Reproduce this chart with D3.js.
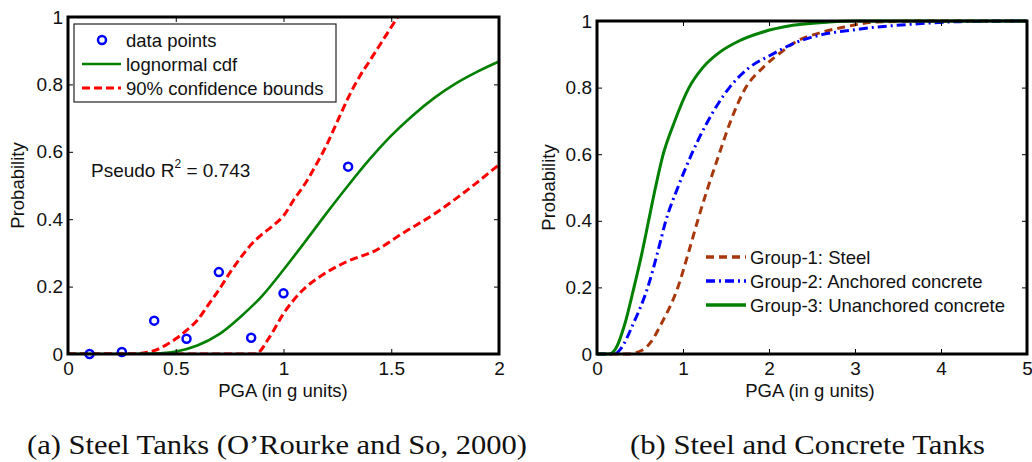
<!DOCTYPE html>
<html lang="en">
<head>
<meta charset="UTF-8">
<title>Tank fragility curves</title>
<style>
  body { margin: 0; background: #fff; }
  svg text { font-family: "Liberation Sans", Arial, sans-serif; fill: #111; }
  .frame { fill: none; stroke: #000; stroke-width: 3px; }
  .tick line { stroke: #000; stroke-width: 1px; }
  .caption { font-family: "Liberation Serif", "Times New Roman", serif; font-size: 27px; }
</style>
</head>
<body>
<svg id="chart" width="1032" height="462"></svg>
<script src="https://cdn.jsdelivr.net/npm/d3@7/dist/d3.min.js"></script>
<script>
// ---- panel (a): steel tanks ----
const pointsA = [[0.1, 0], [0.25, 0.006], [0.4, 0.099], [0.55, 0.045], [0.7, 0.243],
                 [0.85, 0.048], [1.0, 0.18], [1.3, 0.556]];
const lognormalA = [[0, 0], [0.3, 0], [0.4, 0.001], [0.5, 0.007], [0.6, 0.025], [0.7, 0.058],
                    [0.8, 0.11], [0.9, 0.172], [1.0, 0.25], [1.1, 0.333], [1.2, 0.418],
                    [1.3, 0.5], [1.4, 0.578], [1.5, 0.648], [1.6, 0.708], [1.7, 0.76],
                    [1.8, 0.803], [1.9, 0.838], [2.0, 0.868]];
const upperA = [[0, 0], [0.3, 0], [0.35, 0.003], [0.4, 0.01], [0.45, 0.025], [0.5, 0.045],
                [0.55, 0.07], [0.6, 0.1], [0.65, 0.145], [0.7, 0.19], [0.75, 0.24], [0.8, 0.285],
                [0.85, 0.325], [0.9, 0.355], [0.95, 0.38], [1.0, 0.41], [1.05, 0.46], [1.1, 0.505],
                [1.15, 0.56], [1.2, 0.62], [1.25, 0.69], [1.3, 0.76], [1.35, 0.82], [1.4, 0.87],
                [1.45, 0.92], [1.5, 0.97], [1.53, 1.0]];
const lowerA = [[0, 0], [0.87, 0], [0.935, 0.05], [1.0, 0.12], [1.09, 0.19], [1.17, 0.23],
                [1.29, 0.273], [1.43, 0.308], [1.55, 0.357], [1.71, 0.42], [1.89, 0.505], [2.0, 0.562]];
const xTicksA = [0, 0.5, 1, 1.5, 2];
const legendA = ["data points", "lognormal cdf", "90% confidence bounds"];

// ---- panel (b): steel and concrete tanks ----
const group1 = [[0, 0], [0.35, 0], [0.53, 0.012], [0.63, 0.037], [0.74, 0.087], [0.94, 0.2],
                [1.07, 0.31], [1.17, 0.4], [1.29, 0.5], [1.42, 0.6], [1.54, 0.69], [1.73, 0.8],
                [1.93, 0.86], [2.16, 0.91], [2.31, 0.937], [2.6, 0.965], [2.86, 0.981],
                [3.25, 0.997], [4, 1], [5, 1]];
const group2 = [[0, 0], [0.2, 0], [0.28, 0.017], [0.415, 0.087], [0.59, 0.2], [0.71, 0.31],
                [0.8, 0.4], [0.94, 0.5], [1.1, 0.6], [1.27, 0.69], [1.54, 0.8], [1.77, 0.86],
                [2.0, 0.895], [2.16, 0.917], [2.31, 0.935], [2.48, 0.95], [3.06, 0.976],
                [3.64, 0.99], [4.22, 0.998], [5, 1]];
const group3 = [[0, 0], [0.14, 0], [0.22, 0.017], [0.32, 0.087], [0.43, 0.2], [0.52, 0.3],
                [0.6, 0.4], [0.68, 0.5], [0.77, 0.6], [0.89, 0.69], [1.07, 0.8], [1.23, 0.86],
                [1.42, 0.905], [1.65, 0.94], [1.93, 0.967], [2.28, 0.987], [2.7, 0.997],
                [3.0, 1], [5, 1]];
const xTicksB = [0, 1, 2, 3, 4, 5];
const groupNames = ["Group-1: Steel", "Group-2: Anchored concrete", "Group-3: Unanchored concrete"];

const probTicks = [0, 0.2, 0.4, 0.6, 0.8, 1];

const svg = d3.select("#chart");

function drawFrame(g, x, y, xTicks) {
    const [x0, x1] = x.range();
    const [y0, y1] = y.range();
    g.append("g").attr("transform", `translate(0,${y0})`)
        .call(d3.axisBottom(x).tickValues(xTicks).tickSize(-5).tickPadding(8).tickFormat(d => d))
        .call(a => a.select(".domain").remove())
        .selectAll("text").style("font-size", "19px");
    g.append("g").attr("transform", `translate(0,${y1})`)
        .call(d3.axisTop(x).tickValues(xTicks).tickSize(-5).tickFormat(""))
        .call(a => a.select(".domain").remove());
    g.append("g").attr("transform", `translate(${x0},0)`)
        .call(d3.axisLeft(y).tickValues(probTicks).tickSize(-5).tickPadding(5).tickFormat(d => d))
        .call(a => a.select(".domain").remove())
        .selectAll("text").style("font-size", "19px");
    g.append("g").attr("transform", `translate(${x1},0)`)
        .call(d3.axisRight(y).tickValues(probTicks).tickSize(-5).tickFormat(""))
        .call(a => a.select(".domain").remove());
    g.append("rect").attr("class", "frame")
        .attr("x", x0).attr("y", y1).attr("width", x1 - x0).attr("height", y0 - y1);
    g.selectAll(".tick text").attr("fill", "#111");
}

function axisLabels(g, x, y, cx, ly) {
    g.append("text").attr("x", cx).attr("y", 397).attr("text-anchor", "middle")
        .style("font-size", "18.5px").text("PGA (in g units)");
    g.append("text").attr("transform", `translate(${ly},${(y.range()[0] + y.range()[1]) / 2}) rotate(-90)`)
        .attr("text-anchor", "middle").style("font-size", "18.5px").text("Probability");
}

// ---------- panel (a) ----------
const xA = d3.scaleLinear().domain([0, 2]).range([68, 499]);
const yA = d3.scaleLinear().domain([0, 1]).range([354, 17]);
const gA = svg.append("g");
const lineA = d3.line().x(d => xA(d[0])).y(d => yA(d[1])).curve(d3.curveMonotoneX);

gA.append("defs").append("clipPath").attr("id", "clipA")
    .append("rect").attr("x", 68).attr("y", 17).attr("width", 431).attr("height", 337);
const plotA = gA.append("g").attr("clip-path", "url(#clipA)");

plotA.append("path").datum(lowerA).attr("d", lineA)
    .attr("fill", "none").attr("stroke", "#ff0000").attr("stroke-width", 3).attr("stroke-dasharray", "8,4");
plotA.append("path").datum(upperA).attr("d", lineA)
    .attr("fill", "none").attr("stroke", "#ff0000").attr("stroke-width", 3).attr("stroke-dasharray", "8,4");
plotA.append("path").datum(lognormalA).attr("d", lineA)
    .attr("fill", "none").attr("stroke", "#008000").attr("stroke-width", 2.6);
gA.selectAll("circle.pt").data(pointsA).join("circle").attr("class", "pt")
    .attr("cx", d => xA(d[0])).attr("cy", d => yA(d[1])).attr("r", 4)
    .attr("fill", "none").attr("stroke", "#0000ff").attr("stroke-width", 2.5);

drawFrame(gA, xA, yA, xTicksA);
axisLabels(gA, xA, yA, 283, 24);

// legend (a)
const legA = gA.append("g");
legA.append("rect").attr("x", 74).attr("y", 24).attr("width", 262).attr("height", 78)
    .attr("fill", "#fff").attr("stroke", "#222").attr("stroke-width", 1.2);
legA.append("circle").attr("cx", 102).attr("cy", 40).attr("r", 4)
    .attr("fill", "none").attr("stroke", "#0000ff").attr("stroke-width", 2.5);
legA.append("line").attr("x1", 82).attr("x2", 121).attr("y1", 64).attr("y2", 64)
    .attr("stroke", "#008000").attr("stroke-width", 2.6);
legA.append("line").attr("x1", 82).attr("x2", 121).attr("y1", 88).attr("y2", 88)
    .attr("stroke", "#ff0000").attr("stroke-width", 3).attr("stroke-dasharray", "8,4");
legendA.forEach((t, i) => {
    legA.append("text").attr("x", 126).attr("y", 47 + i * 24).style("font-size", "18.5px").text(t);
});

const r2 = gA.append("text").attr("x", 91).attr("y", 177).style("font-size", "19px");
r2.append("tspan").text("Pseudo R");
r2.append("tspan").attr("dy", -9).style("font-size", "12px").text("2");
r2.append("tspan").attr("dy", 9).text(" = 0.743");

// ---------- panel (b) ----------
const xB = d3.scaleLinear().domain([0, 5]).range([597, 1027]);
const yB = d3.scaleLinear().domain([0, 1]).range([354, 21]);
const gB = svg.append("g");
const lineB = d3.line().x(d => xB(d[0])).y(d => yB(d[1])).curve(d3.curveMonotoneX);

const styles = [
    { data: group1, color: "#a8380c", width: 3, dash: "8,5" },
    { data: group2, color: "#0000ff", width: 3, dash: "9,4,2,4" },
    { data: group3, color: "#008000", width: 3, dash: null }
];
styles.forEach(s => {
    gB.append("path").datum(s.data).attr("d", lineB)
        .attr("fill", "none").attr("stroke", s.color).attr("stroke-width", s.width)
        .attr("stroke-dasharray", s.dash);
});

drawFrame(gB, xB, yB, xTicksB);
axisLabels(gB, xB, yB, 810, 555);

styles.forEach((s, i) => {
    const ly = 257 + i * 24;
    gB.append("line").attr("x1", 706).attr("x2", 746).attr("y1", ly).attr("y2", ly)
        .attr("stroke", s.color).attr("stroke-width", s.width + 0.5).attr("stroke-dasharray", s.dash);
    gB.append("text").attr("x", 750).attr("y", ly + 7).style("font-size", "18.5px").text(groupNames[i]);
});

// captions
svg.append("text").attr("class", "caption").attr("x", 27).attr("y", 454)
    .attr("textLength", 500).attr("lengthAdjust", "spacingAndGlyphs")
    .text("(a) Steel Tanks (O\u2019Rourke and So, 2000)");
svg.append("text").attr("class", "caption").attr("x", 630).attr("y", 454)
    .attr("textLength", 355).attr("lengthAdjust", "spacingAndGlyphs")
    .text("(b) Steel and Concrete Tanks");
</script>
</body>
</html>
